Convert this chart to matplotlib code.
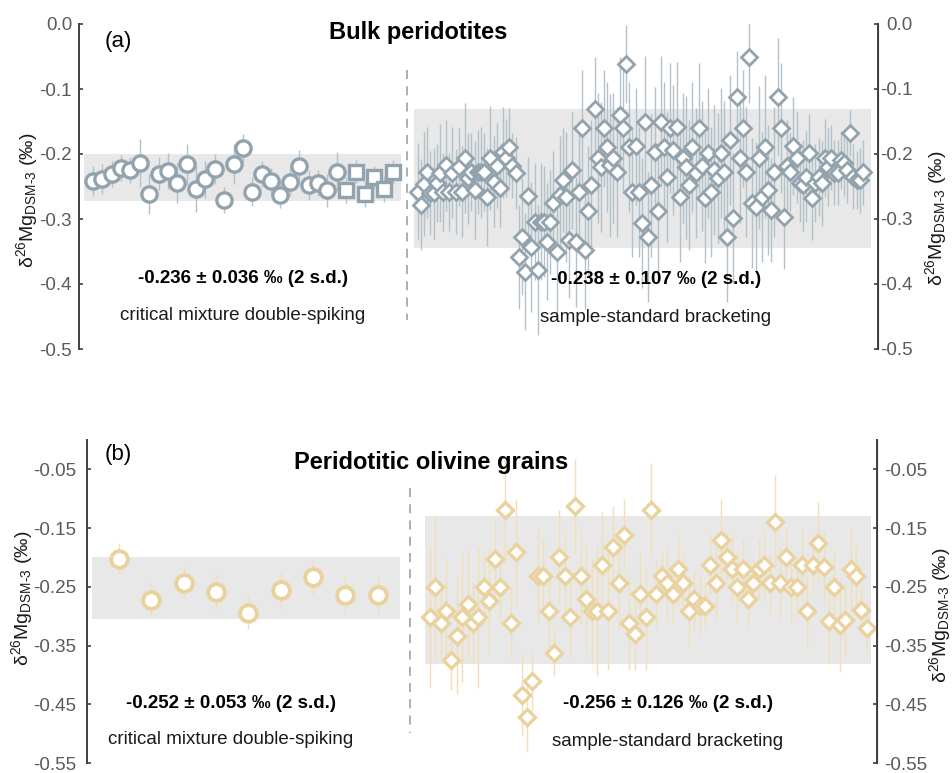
import numpy as np
import matplotlib
matplotlib.use("Agg")
import matplotlib.pyplot as plt

plt.rcParams.update({
    "font.family": ["Liberation Sans", "DejaVu Sans"],
    "mathtext.fontset": "custom",
    "mathtext.rm": "Liberation Sans",
    "mathtext.it": "Liberation Sans:italic",
    "mathtext.bf": "Liberation Sans:bold",
})

# ---- (a) bulk peridotites -------------------------------------------------
bulk_cmds_circle = [-0.241, -0.239, -0.230, -0.221, -0.224, -0.214, -0.261, -0.230, -0.226,
                    -0.245, -0.216, -0.254, -0.239, -0.223, -0.271, -0.215, -0.191, -0.258,
                    -0.231, -0.241, -0.263, -0.243, -0.219, -0.248, -0.245, -0.256, -0.227]
bulk_cmds_circle_err = [0.023, 0.023, 0.020, 0.020, 0.020, 0.037, 0.031, 0.025, 0.028,
                        0.031, 0.032, 0.035, 0.028, 0.023, 0.020, 0.031, 0.022, 0.022,
                        0.020, 0.020, 0.020, 0.022, 0.025, 0.023, 0.020, 0.025, 0.030]
bulk_cmds_square = [-0.256, -0.227, -0.262, -0.236, -0.254, -0.227]
bulk_cmds_square_err = [0.020, 0.018, 0.020, 0.018, 0.020, 0.018]

bulk_ssb = [
    -0.258, -0.278, -0.246, -0.228, -0.260, -0.260, -0.245, -0.229, -0.258, -0.217,
    -0.258, -0.229, -0.258, -0.220, -0.258, -0.206, -0.237, -0.228, -0.255, -0.228,
    -0.228, -0.228, -0.266, -0.206, -0.243, -0.218, -0.252, -0.197, -0.206, -0.189,
    -0.218, -0.229, -0.358, -0.327, -0.381, -0.265, -0.343, -0.304, -0.378, -0.304,
    -0.304, -0.335, -0.304, -0.276, -0.351, -0.263, -0.240, -0.266, -0.332, -0.225,
    -0.335, -0.258, -0.160, -0.348, -0.288, -0.248, -0.131, -0.206, -0.220, -0.160,
    -0.189, -0.217, -0.206, -0.228, -0.140, -0.160, -0.062, -0.189, -0.258, -0.188,
    -0.258, -0.306, -0.150, -0.327, -0.248, -0.197, -0.288, -0.150, -0.189, -0.235,
    -0.160, -0.194, -0.158, -0.266, -0.206, -0.220, -0.248, -0.189, -0.229, -0.160,
    -0.218, -0.268, -0.198, -0.258, -0.225, -0.237, -0.198, -0.228, -0.327, -0.178,
    -0.298, -0.112, -0.206, -0.160, -0.228, -0.051, -0.276, -0.281, -0.206, -0.266,
    -0.189, -0.255, -0.286, -0.228, -0.112, -0.160, -0.297, -0.218, -0.228, -0.188,
    -0.206, -0.245, -0.248, -0.235, -0.198, -0.268, -0.245, -0.235, -0.245, -0.206,
    -0.220, -0.206, -0.229, -0.229, -0.209, -0.214, -0.225, -0.168, -0.235, -0.240,
    -0.240, -0.228,
]
bulk_ssb_err = [
    0.075, 0.070, 0.080, 0.070, 0.065, 0.070, 0.060, 0.075, 0.060, 0.070,
    0.060, 0.070, 0.065, 0.060, 0.070, 0.085, 0.070, 0.060, 0.075, 0.065,
    0.070, 0.060, 0.075, 0.080, 0.070, 0.065, 0.060, 0.070, 0.060, 0.060,
    0.050, 0.055, 0.080, 0.090, 0.090, 0.060, 0.100, 0.090, 0.100, 0.090,
    0.085, 0.090, 0.080, 0.080, 0.100, 0.090, 0.080, 0.100, 0.090, 0.090,
    0.100, 0.090, 0.090, 0.090, 0.100, 0.100, 0.080, 0.100, 0.100, 0.090,
    0.100, 0.110, 0.100, 0.100, 0.090, 0.100, 0.060, 0.100, 0.100, 0.090,
    0.100, 0.100, 0.100, 0.100, 0.110, 0.100, 0.100, 0.100, 0.100, 0.100,
    0.100, 0.100, 0.100, 0.100, 0.100, 0.110, 0.100, 0.100, 0.100, 0.100,
    0.100, 0.100, 0.100, 0.100, 0.100, 0.100, 0.100, 0.110, 0.100, 0.100,
    0.100, 0.070, 0.100, 0.090, 0.100, 0.070, 0.100, 0.100, 0.110, 0.100,
    0.110, 0.100, 0.080, 0.100, 0.090, 0.100, 0.080, 0.070, 0.060, 0.075,
    0.070, 0.060, 0.070, 0.070, 0.060, 0.065, 0.060, 0.060, 0.065, 0.060,
    0.060, 0.050, 0.050, 0.050, 0.045, 0.050, 0.050, 0.035, 0.050, 0.045,
    0.050, 0.050,
]
bulk_stats = {"cmds": (-0.236, 0.036), "ssb": (-0.238, 0.107)}

# ---- (b) peridotitic olivine grains ---------------------------------------
ol_cmds = [-0.202, -0.272, -0.243, -0.258, -0.294, -0.256, -0.234, -0.264, -0.264]
ol_cmds_err = [0.027, 0.029, 0.027, 0.030, 0.028, 0.033, 0.032, 0.032, 0.033]

ol_ssb = [
    -0.302, -0.251, -0.311, -0.292, -0.375, -0.333, -0.302, -0.279, -0.311, -0.302,
    -0.251, -0.274, -0.202, -0.251, -0.119, -0.311, -0.191, -0.434, -0.472, -0.411,
    -0.231, -0.231, -0.292, -0.362, -0.200, -0.231, -0.302, -0.112, -0.231, -0.271,
    -0.292, -0.292, -0.212, -0.292, -0.182, -0.243, -0.161, -0.311, -0.331, -0.262,
    -0.302, -0.119, -0.262, -0.231, -0.243, -0.262, -0.220, -0.243, -0.292, -0.271,
    -0.282, -0.282, -0.212, -0.243, -0.171, -0.200, -0.220, -0.251, -0.220, -0.271,
    -0.243, -0.220, -0.212, -0.243, -0.139, -0.243, -0.200, -0.251, -0.251, -0.212,
    -0.292, -0.212, -0.176, -0.216, -0.309, -0.251, -0.315, -0.307, -0.220, -0.231,
    -0.289, -0.320,
]
ol_ssb_err = [
    0.120, 0.120, 0.060, 0.090, 0.050, 0.100, 0.110, 0.090, 0.070, 0.120,
    0.060, 0.090, 0.070, 0.060, 0.090, 0.060, 0.090, 0.070, 0.060, 0.050,
    0.080, 0.060, 0.060, 0.040, 0.080, 0.070, 0.070, 0.080, 0.080, 0.090,
    0.090, 0.110, 0.090, 0.100, 0.070, 0.080, 0.060, 0.080, 0.060, 0.070,
    0.090, 0.080, 0.060, 0.040, 0.060, 0.050, 0.060, 0.050, 0.060, 0.050,
    0.050, 0.040, 0.050, 0.060, 0.070, 0.040, 0.060, 0.060, 0.050, 0.050,
    0.040, 0.050, 0.060, 0.050, 0.080, 0.060, 0.050, 0.060, 0.050, 0.060,
    0.060, 0.050, 0.070, 0.060, 0.070, 0.060, 0.080, 0.060, 0.070, 0.050,
    0.040, 0.040,
]
ol_stats = {"cmds": (-0.252, 0.053), "ssb": (-0.256, 0.126)}

W, H = 952, 773
GREY_EDGE, GREY_BAR = "#93A3AE", "#B4C1C9"
TAN_EDGE, TAN_BAR = "#EAD29F", "#F1DFB8"
BAND = "#E8E8E8"
SPINE = "#404040"
TICKLAB = "#5A5A5A"
YLABEL = r"δ$^{26}$Mg$_{\mathregular{DSM‑3}}$ (‰)"


def fig_rect(x0, x1, y_top, y_bot):
    return [x0 / W, 1 - y_bot / H, (x1 - x0) / W, (y_bot - y_top) / H]


def ftext(fig, x, y, s, **kw):
    fig.text(x / W, 1 - y / H, s, ha="center", va="center", **kw)


def style_axes(ax, ylim, ticks, fmt, lpad, rpad):
    ax.set_xlim(0, 100)
    ax.set_ylim(*ylim)
    ax.set_xticks([])
    for s in ("top", "bottom"):
        ax.spines[s].set_visible(False)
    ax.spines["left"].set_color(SPINE)
    ax.spines["left"].set_linewidth(1.4)
    ax.set_yticks(ticks)
    ax.set_yticklabels([fmt.format(t) for t in ticks])
    ax.tick_params(axis="y", direction="in", length=3, width=1.2, color=SPINE,
                   labelsize=13.5, labelcolor=TICKLAB, pad=lpad)
    ax2 = ax.twinx()
    ax2.set_ylim(*ylim)
    for s in ("top", "bottom", "left"):
        ax2.spines[s].set_visible(False)
    ax2.spines["right"].set_color(SPINE)
    ax2.spines["right"].set_linewidth(1.4)
    ax2.set_yticks(ticks)
    ax2.set_yticklabels([fmt.format(t) for t in ticks])
    ax2.tick_params(axis="y", direction="in", length=3, width=1.2, color=SPINE,
                    labelsize=13.5, labelcolor=TICKLAB, pad=rpad)
    for lab in ax2.get_yticklabels():
        lab.set_horizontalalignment("right")
    return ax2


def errpoints(ax, x, y, e, marker, ms, mew, edge, bar):
    y = np.asarray(y)
    e = np.asarray(e)
    ax.vlines(x, y - e, y + e, color=bar, lw=1.0, zorder=2)
    ax.plot(x, y, ls="none", marker=marker, ms=ms, mew=mew, mfc="white",
            mec=edge, zorder=3)


def band(ax, stats, x0, x1):
    mean, sd2 = stats
    ax.fill_between([x0, x1], mean - sd2, mean + sd2, color=BAND, lw=0, zorder=1)


fig = plt.figure(figsize=(W / 100, H / 100), dpi=100)

# panel (a)
axa = fig.add_axes(fig_rect(79, 878, 24, 349))
style_axes(axa, (-0.5, 0.0), [0.0, -0.1, -0.2, -0.3, -0.4, -0.5], "{:.1f}", 5, 25)
band(axa, bulk_stats["cmds"], 0.6, 40.3)
band(axa, bulk_stats["ssb"], 41.9, 99.1)
axa.plot([41.05, 41.05], [-0.071, -0.455], color="#A8A8A8", lw=1.3,
         ls=(0, (5, 4)), zorder=1)
n_left = len(bulk_cmds_circle) + len(bulk_cmds_square)
xl = np.linspace(1.75, 39.3, n_left)
nc = len(bulk_cmds_circle)
errpoints(axa, xl[:nc], bulk_cmds_circle, bulk_cmds_circle_err, "o", 11.0, 2.4,
          GREY_EDGE, GREY_BAR)
errpoints(axa, xl[nc:], bulk_cmds_square, bulk_cmds_square_err, "s", 10.5, 2.4,
          GREY_EDGE, GREY_BAR)
xr = np.linspace(42.4, 98.1, len(bulk_ssb))
errpoints(axa, xr, bulk_ssb, bulk_ssb_err, "D", 8.0, 2.0, GREY_EDGE, GREY_BAR)

# panel (b)
axb = fig.add_axes(fig_rect(87, 877, 440, 763))
style_axes(axb, (-0.55, 0.0), [-0.05, -0.15, -0.25, -0.35, -0.45, -0.55], "{:.2f}", 8, 36)
band(axb, ol_stats["cmds"], 0.63, 39.6)
band(axb, ol_stats["ssb"], 42.8, 99.2)
axb.plot([40.9, 40.9], [-0.082, -0.499], color="#A8A8A8", lw=1.3,
         ls=(0, (5, 4)), zorder=1)
xl = np.linspace(4.05, 36.8, len(ol_cmds))
errpoints(axb, xl, ol_cmds, ol_cmds_err, "o", 12.0, 2.8, TAN_EDGE, TAN_BAR)
xr = np.linspace(43.4, 98.7, len(ol_ssb))
errpoints(axb, xr, ol_ssb, ol_ssb_err, "D", 8.6, 2.4, TAN_EDGE, TAN_BAR)

# text
ftext(fig, 118, 42, "(a)", fontsize=16)
ftext(fig, 418, 33, "Bulk peridotites", fontsize=17, fontweight="bold")
ftext(fig, 118, 455, "(b)", fontsize=16)
ftext(fig, 431, 462, "Peridotitic olivine grains", fontsize=17, fontweight="bold")

for (cx, cy, stats, desc) in [
    (243, 279, bulk_stats["cmds"], "critical mixture double-spiking"),
    (656, 280, bulk_stats["ssb"], "sample-standard bracketing"),
    (231, 703, ol_stats["cmds"], "critical mixture double-spiking"),
    (668, 704, ol_stats["ssb"], "sample-standard bracketing"),
]:
    ftext(fig, cx, cy, f"{stats[0]:.3f} ± {stats[1]:.3f} ‰ (2 s.d.)",
          fontsize=13.5, fontweight="bold")
    ftext(fig, cx, cy + 37, desc, fontsize=13.5, color="#1A1A1A")

for (x, y) in [(27, 200), (936, 218), (22, 598), (940, 615)]:
    ftext(fig, x, y, YLABEL, fontsize=14, rotation=90, color="#1A1A1A")

fig.savefig("out.png", dpi=100)
